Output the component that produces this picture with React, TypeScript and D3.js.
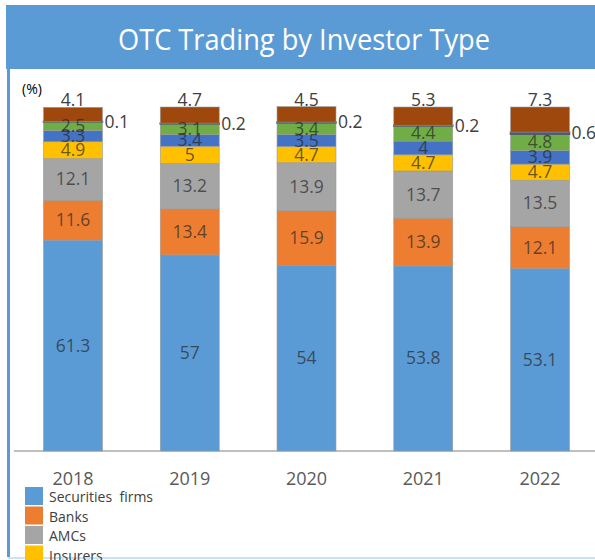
import React, { useEffect, useRef } from 'react';
import { scaleBand, scaleLinear, select } from 'd3';

const years = ['2018', '2019', '2020', '2021', '2022'];

const seriesNames = [
  'Securities  firms',
  'Banks',
  'AMCs',
  'Insurers',
  'Pension funds',
  'Foreign investors',
  'Government',
  'Others',
];

const seriesColors = [
  '#5B9BD5',
  '#ED7D31',
  '#A5A5A5',
  '#FFC000',
  '#4472C4',
  '#70AD47',
  '#4F5B6E',
  '#9E480E',
];

// values per series, one per year
const securities = [61.3, 57, 54, 53.8, 53.1];
const banks = [11.6, 13.4, 15.9, 13.9, 12.1];
const amcs = [12.1, 13.2, 13.9, 13.7, 13.5];
const insurers = [4.9, 5, 4.7, 4.7, 4.7];
const pension = [3.3, 3.4, 3.5, 4, 3.9];
const foreign = [2.5, 3.1, 3.4, 4.4, 4.8];
const government = [0.1, 0.2, 0.2, 0.2, 0.6];
const others = [4.1, 4.7, 4.5, 5.3, 7.3];

const seriesValues = [securities, banks, amcs, insurers, pension, foreign, government, others];

const FONT = "'Open Sans', sans-serif";

const App = () => {
  const ref = useRef<SVGSVGElement | null>(null);

  useEffect(() => {
    document.body.style.margin = '0';
    const svg = select(ref.current);
    svg.selectAll('*').remove();

    const width = 595;
    const height = 560;

    // frame
    svg.append('rect').attr('x', 0).attr('y', 0).attr('width', width).attr('height', height).attr('fill', '#fff');
    svg.append('rect').attr('x', 6).attr('y', 5).attr('width', width - 6).attr('height', 64).attr('fill', '#5B9BD5');
    svg.append('rect').attr('x', 7).attr('y', 5).attr('width', 3).attr('height', 552).attr('fill', '#5B9BD5');
    svg.append('line')
      .attr('x1', 8).attr('x2', width).attr('y1', 558).attr('y2', 558)
      .attr('stroke', '#BDD7EE').attr('stroke-width', 1.5);

    svg.append('text')
      .attr('x', 304).attr('y', 50)
      .attr('text-anchor', 'middle')
      .attr('fill', '#fff')
      .attr('font-family', FONT)
      .attr('font-size', 30)
      .attr('textLength', 372)
      .attr('lengthAdjust', 'spacingAndGlyphs')
      .text('OTC Trading by Investor Type');

    svg.append('text')
      .attr('x', 22).attr('y', 94)
      .attr('fill', '#000')
      .attr('font-family', FONT)
      .attr('font-size', 14)
      .text('(%)');

    const x = scaleBand<string>()
      .domain(years)
      .range([14.6, 598.4])
      .paddingInner(0.495)
      .paddingOuter(0.2475);

    const y = scaleLinear().domain([0, 100]).range([451, 107]);

    // axis line
    svg.append('line')
      .attr('x1', 14).attr('x2', width).attr('y1', 451).attr('y2', 451)
      .attr('stroke', '#BFBFBF').attr('stroke-width', 2);

    const bars = svg.append('g');
    const labels = svg.append('g').attr('font-family', FONT);

    years.forEach((yr, i) => {
      let cum = 0;
      const x0 = x(yr) ?? 0;
      const bw = x.bandwidth();
      seriesValues.forEach((vals, s) => {
        const v = vals[i];
        const y0 = y(cum);
        const y1 = y(cum + v);
        const isThin = s === 6;
        bars.append('rect')
          .attr('x', x0)
          .attr('y', y1)
          .attr('width', bw)
          .attr('height', y0 - y1)
          .attr('fill', seriesColors[s])
          .attr('stroke', isThin ? seriesColors[s] : '#9a9a9a')
          .attr('stroke-width', isThin ? 1.6 : 0.6);

        if (s === seriesValues.length - 1) {
          labels.append('text')
            .attr('x', x0 + bw / 2)
            .attr('y', y1 - 1)
            .attr('text-anchor', 'middle')
            .attr('font-size', 17.5)
            .attr('fill', '#404040')
            .text(String(v));
        } else if (isThin) {
          labels.append('text')
            .attr('x', x0 + bw + 2)
            .attr('y', (y0 + y1) / 2 + 6)
            .attr('font-size', 17.5)
            .attr('fill', '#404040')
            .text(String(v));
        } else {
          labels.append('text')
            .attr('x', x0 + bw / 2)
            .attr('y', (y0 + y1) / 2 + 6)
            .attr('text-anchor', 'middle')
            .attr('font-size', 17.5)
            .attr('fill', '#262626')
            .attr('fill-opacity', 0.7)
            .text(String(v));
        }
        cum += v;
      });
    });

    // year labels
    svg.append('g')
      .selectAll('text')
      .data(years)
      .enter()
      .append('text')
      .attr('x', (d) => (x(d) ?? 0) + x.bandwidth() / 2)
      .attr('y', 485)
      .attr('text-anchor', 'middle')
      .attr('font-family', FONT)
      .attr('font-size', 18)
      .attr('fill', '#595959')
      .text((d) => d);

    // legend
    const legend = svg.append('g').attr('font-family', FONT);
    seriesNames.forEach((name, s) => {
      const top = 487 + s * 19.5;
      legend.append('rect')
        .attr('x', 25).attr('y', top)
        .attr('width', 18).attr('height', 18)
        .attr('fill', seriesColors[s]);
      legend.append('text')
        .attr('x', 49).attr('y', top + 15)
        .attr('font-size', 14)
        .attr('fill', '#404040')
        .attr('xml:space', 'preserve')
        .style('white-space', 'pre')
        .text(name);
    });
  }, []);

  return <svg ref={ref} width={595} height={560} style={{ display: 'block', overflow: 'hidden' }} />;
};

export default App;
